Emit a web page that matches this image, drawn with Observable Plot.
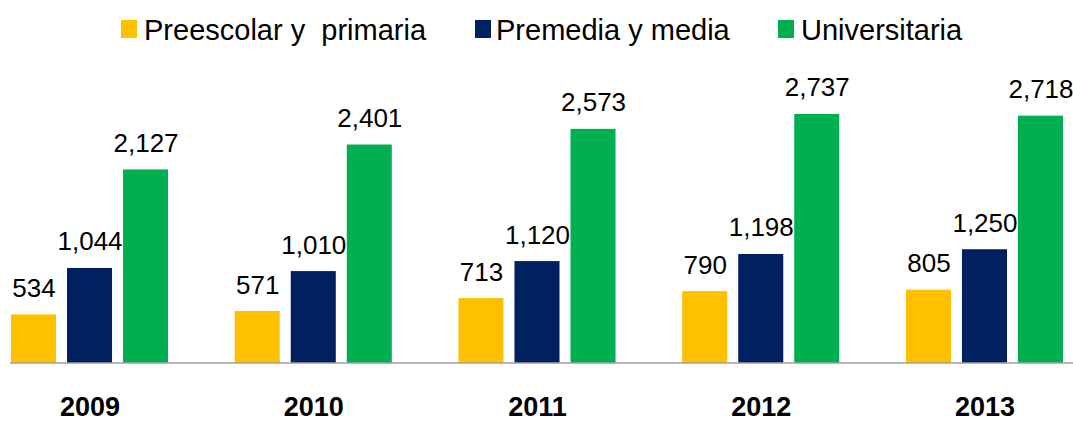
<!DOCTYPE html>
<html>
<head>
<meta charset="utf-8">
<script src="https://cdn.jsdelivr.net/npm/d3@7"></script>
<script src="https://cdn.jsdelivr.net/npm/@observablehq/plot@0.6"></script>
<style>
  body { margin: 0; background: #fff; font-family: "Liberation Sans", Arial, sans-serif; }
  #legend { position: relative; height: 52px; width: 1073px; }
  .sw { position: absolute; top: 20px; width: 16px; height: 18px; }
  .lt { position: absolute; top: 16px; font-size: 29px; line-height: 29px; white-space: pre; color: #000; }
  svg { display: block; }
</style>
</head>
<body>
<div id="legend"></div>
<div id="chart"></div>
<script>
const years = ["2009", "2010", "2011", "2012", "2013"];
const series = ["Preescolar y  primaria", "Premedia y media", "Universitaria"];
const preescolar = [534, 571, 713, 790, 805];
const premedia = [1044, 1010, 1120, 1198, 1250];
const universitaria = [2127, 2401, 2573, 2737, 2718];
const colors = ["#FFC000", "#002060", "#00B050"];

const values = [preescolar, premedia, universitaria];
const rows = [];
years.forEach((yr, i) => {
  series.forEach((s, j) => rows.push({ year: yr, series: s, value: values[j][i] }));
});
const fmt = d3.format(",");

// Legend (HTML, above the SVG)
const legendPos = [{ sw: 121, tx: 144 }, { sw: 475, tx: 496 }, { sw: 778, tx: 801 }];
const legend = document.getElementById("legend");
series.forEach((s, j) => {
  const sw = document.createElement("div");
  sw.className = "sw";
  sw.style.left = legendPos[j].sw + "px";
  sw.style.background = colors[j];
  legend.appendChild(sw);
  const t = document.createElement("div");
  t.className = "lt";
  t.style.left = legendPos[j].tx + "px";
  t.textContent = s;
  legend.appendChild(t);
});

const plot = Plot.plot({
  width: 1073,
  height: 369,
  marginLeft: 11,
  marginRight: 10,
  marginTop: 38,
  marginBottom: 58,
  style: { fontFamily: "Liberation Sans, Arial, sans-serif", background: "white", color: "black" },
  fx: { domain: years, paddingInner: 0.298, paddingOuter: 0, round: false, axis: null, label: null },
  x: { domain: series, paddingInner: 0.196, paddingOuter: 0, round: false, axis: null },
  y: { domain: [0, 3000], axis: null },
  color: { domain: series, range: colors },
  marks: [
    Plot.barY(rows, { fx: "year", x: "series", y: "value", fill: "series" }),
    Plot.text(rows, {
      fx: "year", x: "series", y: "value",
      text: d => fmt(d.value),
      lineAnchor: "bottom", dy: -18, fontSize: 26, fill: "black"
    }),
    Plot.text(years, {
      fx: d => d, text: d => d,
      frameAnchor: "bottom", lineAnchor: "top", dy: 33,
      fontSize: 27, fontWeight: "bold", fill: "black"
    })
  ]
});

const y0 = plot.scale("y").apply(0);
d3.select(plot).append("line")
  .attr("x1", 10).attr("x2", 1073)
  .attr("y1", y0).attr("y2", y0)
  .attr("stroke", "#a0a0a0").attr("stroke-width", 1.5);

document.getElementById("chart").appendChild(plot);
</script>
</body>
</html>
